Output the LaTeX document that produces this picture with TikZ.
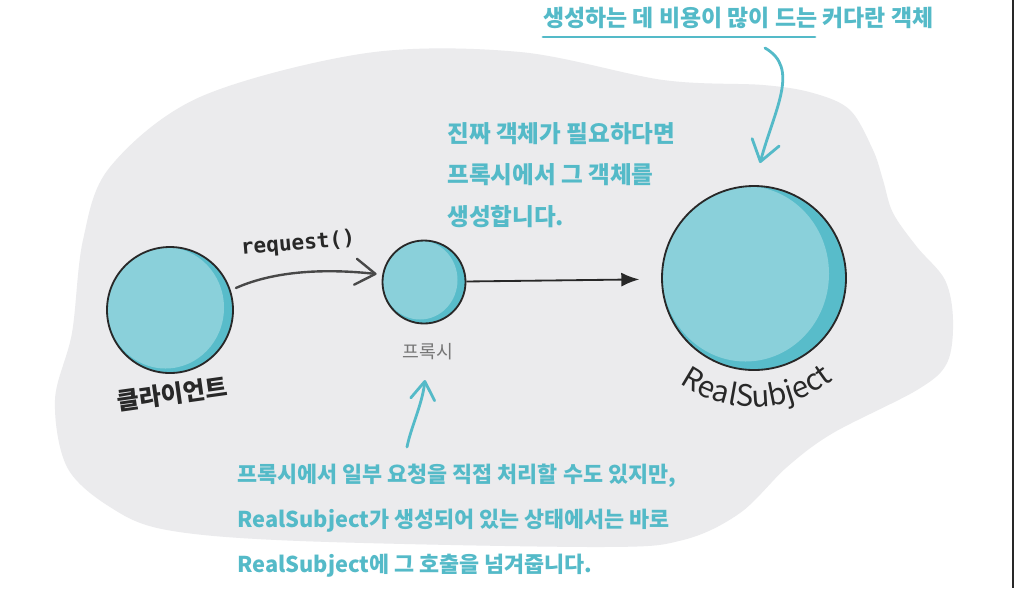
\documentclass[tikz,border=0pt]{standalone}
\usepackage{fontspec}
\newfontfamily\krfont{Noto Sans CJK KR}
\newfontfamily\codefont{DejaVu Sans Mono}
\usetikzlibrary{arrows.meta, decorations.text, calc}
\definecolor{BlobGray}{RGB}{235, 235, 237}
\definecolor{NoteTeal}{RGB}{84, 186, 200}
\definecolor{BallLight}{RGB}{138, 208, 218}
\definecolor{BallDark}{RGB}{88, 188, 202}
\definecolor{InkBlack}{RGB}{40, 40, 40}
\definecolor{LabelGray}{RGB}{118, 118, 118}

\begin{document}
\begin{tikzpicture}[x=0.025cm, y=-0.025cm,
    ball/.style={circle, draw=InkBlack, line width=1.3pt, inner sep=0pt},
    note/.style={font=\krfont\bfseries\fontsize{16.3}{29}\selectfont, text=NoteTeal, align=left, inner sep=0pt},
    pointer/.style={NoteTeal, line width=2pt, line cap=round, -{Straight Barb[length=5mm, width=7mm, round]}},
    request/.style={InkBlack!85, line width=1.7pt, line cap=round, -{Straight Barb[length=5mm, width=6.5mm, round]}},
    call/.style={InkBlack, line width=1.3pt, -{Latex[length=4.5mm, width=3.5mm]}}]

    % --- Canvas ---
    \fill[white] (0,0) rectangle (1016,588);
    \useasboundingbox (0,0) rectangle (1016,588);

    % --- Background blob ---
    \fill[BlobGray] plot [smooth cycle, tension=0.55] coordinates {
        (520,52) (367,53) (200,97) (110,167) (83,240) (72,333) (55,400)
        (67,467) (110,507) (167,530) (300,541) (600,547) (683,540) (740,513)
        (787,467) (833,433) (917,390) (947,363) (953,320) (945,280) (917,247)
        (893,213) (883,180) (873,150) (850,110) (813,93) (763,85) (663,80)
    };

    % --- Balls (name / x / y / radius / crescent) ---
    \foreach \name/\x/\y/\r/\c in {client/170/310/63/9, proxy/424/282/41.5/8, real/754/278/92/17} {
        \fill[BallDark] (\x,\y) circle (\r);
        \begin{scope}
            \clip (\x,\y) circle (\r);
            \fill[BallLight] ({\x-\c/2},{\y-\c/4}) ellipse ({\r-\c/2} and {\r-\c/4});
        \end{scope}
        \node[ball, minimum size={2*\r*0.025cm}] (\name) at (\x,\y) {};
    }

    % --- Ball labels ---
    \node[font=\krfont\bfseries\fontsize{17.2}{17.2}\selectfont, text=InkBlack, rotate=8] (clientname) at (172,394) {클라이언트};
    \node[font=\krfont\fontsize{13}{13}\selectfont, text=LabelGray] (proxyname) at (428,352) {프록시};
    \path[decorate, decoration={text along path, text align=center, text color=InkBlack,
        text={|\krfont\fontsize{21}{21}\selectfont|RealSubject}}]
        (754,278) ++(125:129) arc[start angle=125, end angle=52, radius=129];

    % --- Calls ---
    \node[font=\codefont\bfseries\fontsize{15}{15}\selectfont, text=InkBlack, rotate=5] (reqlabel) at (298,244) {request()};
    \draw[request, shorten <=4pt, shorten >=4pt] (client.18) .. controls +(45,-20) and +(-55,-6) .. (proxy.170);
    \draw[call, shorten >=15.5pt] (proxy) -- (real);

    % --- Notes ---
    \node[note, anchor=west] (bignote) at (543,18) {생성하는 데 비용이 많이 드는 커다란 객체};
    \draw[NoteTeal, line width=2pt, line cap=round] (543,37) -- (815,37);
    \node[note, anchor=north west, font=\krfont\bfseries\fontsize{16.8}{29.5}\selectfont] (createnote) at (447,122)
        {진짜 객체가 필요하다면\\프록시에서 그 객체를\\생성합니다.};
    \node[note, anchor=north west, font=\krfont\bfseries\fontsize{15.5}{32}\selectfont] (passnote) at (237,464)
        {프록시에서 일부 요청을 직접 처리할 수도 있지만,\\RealSubject가 생성되어 있는 상태에서는 바로\\RealSubject에 그 호출을 넘겨줍니다.};

    % --- Pointers ---
    \coordinate (bigtail) at (765,48);
    \coordinate (bigtip) at (760,163);
    \draw[pointer] (bigtail) .. controls +(35,20) and +(15,-55) .. (bigtip);
    \coordinate (smalltail) at (407,447);
    \coordinate (smalltip) at (425,380);
    \draw[pointer, -{Straight Barb[length=4.5mm, width=6mm, round]}] (smalltail) .. controls +(4,-20) and +(-3,25) .. (smalltip);

    % --- Frame edge ---
    \draw[InkBlack, line width=1.4pt] (1013,0) -- (1013,588);

\end{tikzpicture}
\end{document}
